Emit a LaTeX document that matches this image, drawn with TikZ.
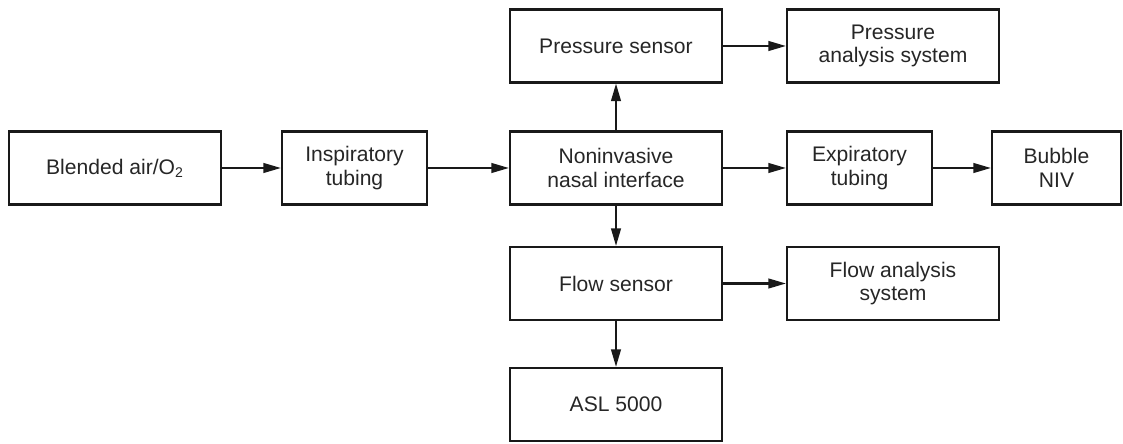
\documentclass[tikz,border=0pt]{standalone}
\usepackage{fontspec}
\setmainfont{Liberation Sans}
\usepackage{tikz}
\usetikzlibrary{arrows.meta}

\begin{document}
\begin{tikzpicture}[
  blk/.style={draw=black!90, line width=1.2pt, text=black!85, align=center,
    minimum height=1.46cm, inner sep=0pt,
    font=\fontsize{12}{13.5}\selectfont},
  conn/.style={draw=black!90, line width=1.2pt, -{Triangle[length=10pt,width=5.5pt]}}]
\useasboundingbox (0,0) rectangle (22.46,8.86);
\node[blk, minimum width=4.24cm] (blend) at (2.3,5.5) {Blended air/O\textsubscript{2}};
\node[blk, minimum width=2.9cm] (insp) at (7.09,5.5) {Inspiratory\\tubing};
\node[blk, minimum width=4.24cm] (nasal) at (12.32,5.5) {Noninvasive\\nasal interface};
\node[blk, minimum width=2.9cm] (exp) at (17.19,5.5) {Expiratory\\tubing};
\node[blk, minimum width=2.58cm] (bubble) at (21.13,5.5) {Bubble\\NIV};
\node[blk, minimum width=4.24cm] (press) at (12.32,7.94) {Pressure sensor};
\node[blk, minimum width=4.24cm] (pas) at (17.86,7.94) {Pressure\\analysis system};
\node[blk, minimum width=4.24cm] (flow) at (12.32,3.19) {Flow sensor};
\node[blk, minimum width=4.24cm] (fas) at (17.86,3.19) {Flow analysis\\system};
\node[blk, minimum width=4.24cm] (asl) at (12.32,0.77) {ASL 5000};
\draw[conn] (blend) -- (insp);
\draw[conn] (insp) -- (nasal);
\draw[conn] (nasal) -- (exp);
\draw[conn] (exp) -- (bubble);
\draw[conn] (nasal) -- (press);
\draw[conn] (press) -- (pas);
\draw[conn] (nasal) -- (flow);
\draw[conn] (flow) -- (fas);
\draw[conn] (flow) -- (asl);
\end{tikzpicture}
\end{document}
